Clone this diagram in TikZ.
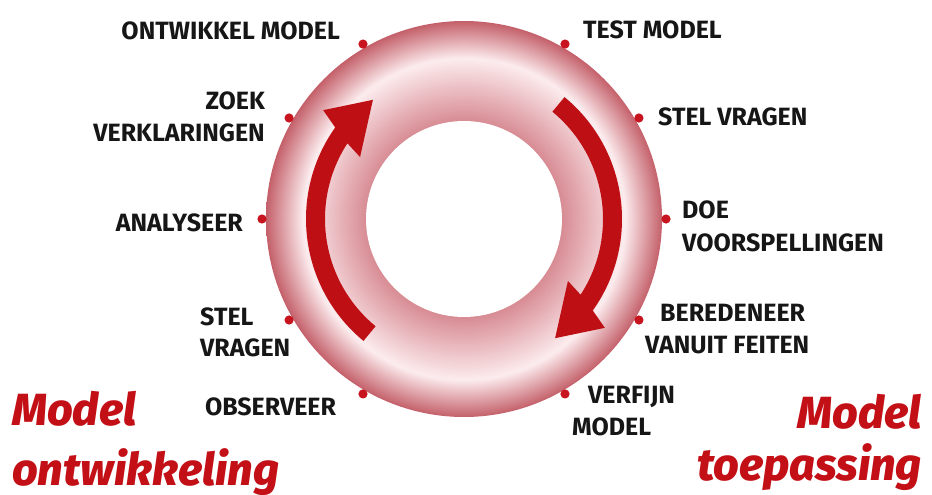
\documentclass[tikz,border=0pt]{standalone}
\usepackage{fontspec}
\newfontfamily\lblfont{Fira Sans}
\newfontfamily\redfont{Fira Sans}[BoldItalicFont={* ExtraBold Italic}]

\definecolor{ringout}{RGB}{196,96,106}
\definecolor{ringlight}{RGB}{252,236,238}
\definecolor{ringin}{RGB}{216,140,148}
\definecolor{dotred}{RGB}{200,20,30}
\definecolor{arrowred}{RGB}{190,15,20}
\definecolor{titlered}{RGB}{195,15,22}
\definecolor{lbltext}{RGB}{22,22,22}

% torus-like band: dark at both rims, light in between
\pgfdeclareradialshading{ringshade}{\pgfpoint{0bp}{0bp}}{%
  color(0bp)=(ringin); color(12.4bp)=(ringin); color(20.3bp)=(ringlight);
  color(25bp)=(ringout); color(50bp)=(ringout)}

\tikzset{
  lbl/.style={font=\lblfont\bfseries\fontsize{25}{25}\selectfont, text=lbltext, inner sep=0pt},
  lblL/.style={lbl, anchor=base west},
  lblR/.style={lbl, anchor=base east},
  title/.style={font=\redfont\bfseries\itshape\fontsize{45}{45}\selectfont, text=titlered, inner sep=0pt},
  rimdot/.style={fill=dotred},
  cyclearrow/.style={fill=arrowred}
}

\begin{document}
\begin{tikzpicture}[x=1pt,y=-1pt]
\useasboundingbox (0,0) rectangle (932,495);

% ring, drawn with y pointing up so that angles run counter-clockwise
\begin{scope}[shift={(464,219)}, y=1pt]
  \path[shading=ringshade] (0,0) circle (198);
  \fill[white] (0,0) circle (98);

  % markers on the outer rim
  \foreach \a in {0,30,60,120,150,180,210,240,300,330}
    \fill[rimdot] (\a:202) circle (4.6);

  % curved arrow on the left, going up
  \fill[cyclearrow]
    (230.5:158) arc[start angle=230.5, end angle=144.6, radius=158]
    -- (142.3:178) -- (127.4:150) -- (149.2:121) -- (147:139)
    arc[start angle=147, end angle=230.5, radius=139] -- cycle;
  % the same arrow turned half round, on the right, going down
  \fill[cyclearrow, rotate=180]
    (230.5:158) arc[start angle=230.5, end angle=144.6, radius=158]
    -- (142.3:178) -- (127.4:150) -- (149.2:121) -- (147:139)
    arc[start angle=147, end angle=230.5, radius=139] -- cycle;
\end{scope}

% step labels
\node[lblR] (ontwikkel) at (340,40) {ONTWIKKEL MODEL};
\node[lblR] (zoek) at (265,110) {ZOEK};
\node[lblR] (verklaringen) at (265,141) {VERKLARINGEN};
\node[lblR] (analyseer) at (243,231) {ANALYSEER};
\node[lblL] (stelL) at (200,325) {STEL};
\node[lblL] (vragenL) at (200,356) {VRAGEN};
\node[lblL] (observeer) at (205,415) {OBSERVEER};

\node[lblL] (test) at (583,39) {TEST MODEL};
\node[lblL] (stelR) at (658,125) {STEL VRAGEN};
\node[lblL] (doe) at (682,218) {DOE};
\node[lblL] (voorspellingen) at (682,251) {VOORSPELLINGEN};
\node[lblL] (beredeneer) at (660,321) {BEREDENEER};
\node[lblL] (vanuit) at (645,353) {VANUIT FEITEN};
\node[lblL] (verfijn) at (588,403) {VERFIJN};
\node[lblL] (model) at (572,435) {MODEL};

% phase titles
\node[title, anchor=base west] (devA) at (12,425) {Model};
\node[title, anchor=base west] (devB) at (12,485) {ontwikkeling};
\node[title, anchor=base east] (useA) at (922,428) {Model};
\node[title, anchor=base east] (useB) at (922,480) {toepassing};
\end{tikzpicture}
\end{document}
